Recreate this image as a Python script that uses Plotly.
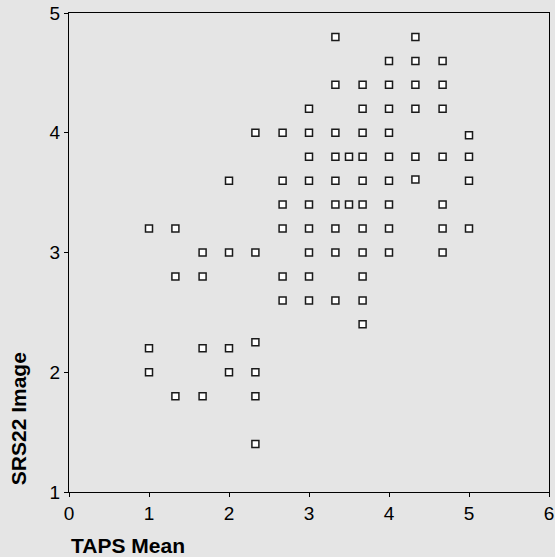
import plotly.graph_objects as go

# TAPS Mean (x) and SRS22 Image (y) values
taps_mean = [
    3.33, 4.33,                                   # y 4.8
    4.0, 4.33, 4.67,                              # y 4.6
    3.33, 3.67, 4.0, 4.33, 4.67,                  # y 4.4
    3.0, 3.67, 4.0, 4.33, 4.67,                   # y 4.2
    2.33, 2.67, 3.0, 3.33, 3.67, 4.0, 5.0,        # y 4.0
    3.0, 3.33, 3.5, 3.67, 4.0, 4.33, 4.67, 5.0,   # y 3.8
    2.0, 2.67, 3.0, 3.33, 3.67, 4.0, 4.33, 5.0,   # y 3.6
    2.67, 3.0, 3.33, 3.5, 3.67, 4.0, 4.67,        # y 3.4
    1.0, 1.33, 2.67, 3.0, 3.33, 3.67, 4.0, 4.67, 5.0,  # y 3.2
    1.67, 2.0, 2.33, 3.0, 3.33, 3.67, 4.0, 4.67,  # y 3.0
    1.33, 1.67, 2.67, 3.0, 3.67,                  # y 2.8
    2.67, 3.0, 3.33, 3.67,                        # y 2.6
    3.67,                                         # y 2.4
    2.33,                                         # y 2.25
    1.0, 1.67, 2.0,                               # y 2.2
    1.0, 2.0, 2.33,                               # y 2.0
    1.33, 1.67, 2.33,                             # y 1.8
    2.33,                                         # y 1.4
]
srs22_image = (
    [4.8] * 2 + [4.6] * 3 + [4.4] * 5 + [4.2] * 5 + [4.0] * 6 + [3.98]
    + [3.8] * 8 + [3.6] * 6 + [3.61] + [3.6]
    + [3.4] * 7 + [3.2] * 9 + [3.0] * 8 + [2.8] * 5 + [2.6] * 4
    + [2.4] + [2.25] + [2.2] * 3 + [2.0] * 3 + [1.8] * 3 + [1.4]
)

x_ticks = [0, 1, 2, 3, 4, 5, 6]
y_ticks = [1, 2, 3, 4, 5]

bg = "rgb(229,229,229)"
font_family = "Liberation Sans, Arial, Helvetica, sans-serif"

fig = go.Figure()
fig.add_trace(go.Scatter(
    x=taps_mean, y=srs22_image, mode="markers",
    marker=dict(symbol="square", size=7, color="white",
                line=dict(color="#1a1a1a", width=1.5)),
    showlegend=False, hoverinfo="x+y",
))

axis_common = dict(ticks="outside", ticklen=4, tickcolor="black",
                   showgrid=False, zeroline=False, showline=True,
                   linecolor="black", linewidth=1, mirror=True,
                   automargin=False, tickfont=dict(size=19))

fig.update_layout(
    width=555, height=557,
    margin=dict(l=69, r=6, t=13, b=65),
    paper_bgcolor=bg, plot_bgcolor=bg,
    font=dict(family=font_family, size=19, color="black"),
    xaxis=dict(range=[0, 6], tickvals=x_ticks, **axis_common),
    yaxis=dict(range=[1, 5], tickvals=y_ticks, **axis_common),
    annotations=[
        dict(text="<b>TAPS Mean</b>", xref="paper", yref="paper",
             x=0, y=-0.1114, xanchor="left", yanchor="middle",
             showarrow=False, font=dict(size=21)),
        dict(text="<b>SRS22 Image</b>", xref="paper", yref="paper",
             x=-0.1048, y=0, xanchor="center", yanchor="bottom", yshift=5,
             textangle=-90, showarrow=False, font=dict(size=21)),
    ],
)

page_css = ("document.body.style.margin='0';"
            "document.body.style.padding='0';"
            "document.body.style.overflow='hidden';"
            "document.body.style.background='rgb(229,229,229)';")

fig.write_html("out.html", post_script=page_css,
               config={"displayModeBar": False})
